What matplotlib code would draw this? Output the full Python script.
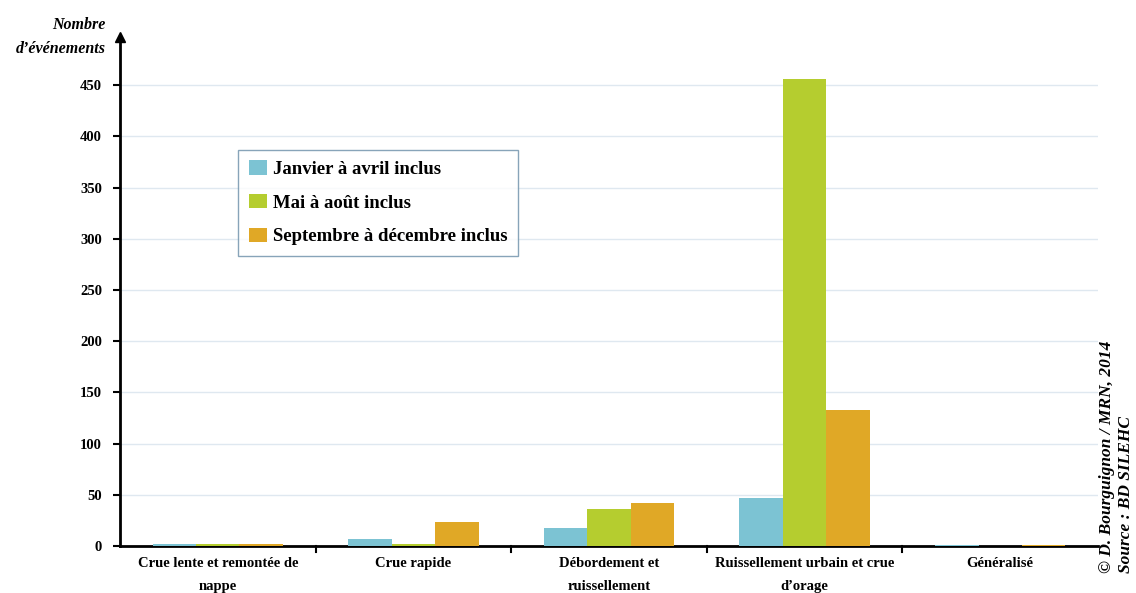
import numpy as np
import matplotlib
matplotlib.use("Agg")
import matplotlib.pyplot as plt

# categories and counts
categories = ["Crue lente et remontée de\nnappe", "Crue rapide",
              "Débordement et\nruissellement",
              "Ruissellement urbain et crue\nd’orage", "Généralisé"]
jan_avr = [2, 7, 18, 47, 1]
mai_aou = [2, 2, 36, 456, 0]
sep_dec = [2, 23, 42, 133, 1]
series_names = ["Janvier à avril inclus", "Mai à août inclus",
                "Septembre à décembre inclus"]
yticks = [0, 50, 100, 150, 200, 250, 300, 350, 400, 450]

colors = ["#7cc3d3", "#b5cd2f", "#e0a826"]
serif = ["Liberation Serif", "DejaVu Serif"]
plt.rcParams["font.family"] = serif

fig = plt.figure(figsize=(11.36, 5.93), dpi=100)
ax = fig.add_axes([0.1056, 0.0793, 0.8610, 0.8583])

x = np.arange(len(categories))
w = 0.222
for k, (vals, name) in enumerate(zip([jan_avr, mai_aou, sep_dec], series_names)):
    ax.bar(x + (k - 1) * w, vals, width=w, color=colors[k], label=name, zorder=3)

ax.set_xlim(-0.5, len(categories) - 0.5)
ax.set_ylim(0, 497)
ax.set_yticks(yticks)
ax.set_yticklabels([str(v) for v in yticks], fontweight="bold", fontsize=10.5)
for v in yticks[1:]:
    ax.axhline(v, color="#dfe8f0", lw=1, zorder=1)

# category labels, boundary ticks drawn by hand between groups
ax.set_xticks(x)
ax.set_xticklabels(categories, fontweight="bold", fontsize=10.5, linespacing=2.0)
ax.tick_params(axis="x", length=0, pad=8)
for b in x[1:] - 0.5:
    ax.plot([b, b], [0, -6], color="black", lw=1.5, clip_on=False)
ax.tick_params(axis="y", direction="out", length=5, width=1.5, pad=8)

for s in ["top", "right"]:
    ax.spines[s].set_visible(False)
ax.spines["left"].set_linewidth(2)
ax.spines["bottom"].set_linewidth(2)
ax.plot(0, 1, marker="^", color="black", markersize=7, transform=ax.transAxes,
        clip_on=False)

fig.text(0.093, 0.958, "Nombre", ha="right", va="center", fontsize=11.5,
         fontweight="bold", style="italic")
fig.text(0.093, 0.918, "d’événements", ha="right", va="center", fontsize=11.5,
         fontweight="bold", style="italic")

leg = ax.legend(loc="upper left", bbox_to_anchor=(0.121, 0.778),
                prop={"weight": "bold", "size": 13.5}, handlelength=1.0,
                handleheight=0.8, handletextpad=0.3, labelspacing=0.85,
                fancybox=False, borderpad=0.55, borderaxespad=0)
leg.get_frame().set_edgecolor("#6a8ea8")
leg.get_frame().set_linewidth(1)

fig.text(0.9745, 0.033, "© D. Bourguignon / MRN, 2014", rotation=90,
         ha="center", va="bottom", fontsize=12.5, fontweight="bold", style="italic")
fig.text(0.9915, 0.033, "Source : BD SILEHC", rotation=90,
         ha="center", va="bottom", fontsize=12.5, fontweight="bold", style="italic")

fig.savefig("out.png", dpi=100)
